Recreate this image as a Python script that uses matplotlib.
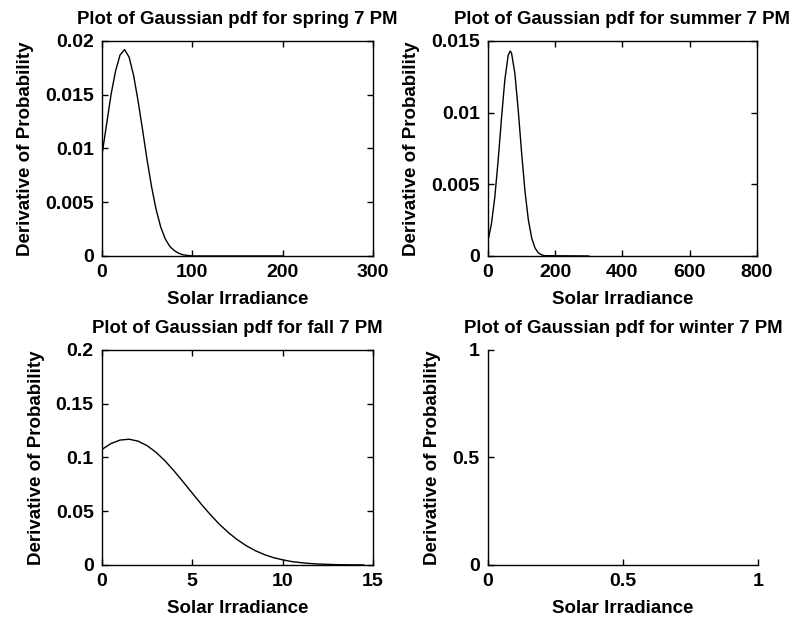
import matplotlib
matplotlib.use("Agg")
import matplotlib.pyplot as plt

plt.rcParams['font.family'] = ['Liberation Sans', 'DejaVu Sans']
plt.rcParams['font.weight'] = 'bold'

# values
spring_x = [0, 5, 10, 15, 20, 25, 30, 35, 40, 45, 50, 55, 60, 65, 70, 75, 80,
            85, 90, 95, 100, 200]
spring_y = [0.0094, 0.0122, 0.0150, 0.0172, 0.0187, 0.0192, 0.0185, 0.0168,
            0.0144, 0.0117, 0.0089, 0.0064, 0.0043, 0.0027, 0.0016, 0.0009,
            0.0005, 0.00025, 0.0001, 0.00005, 0.0, 0.0]

summer_x = [0, 10, 20, 30, 40, 50, 60, 66, 70, 80, 90, 100, 110, 120, 130,
            140, 150, 160, 170, 300]
summer_y = [0.00107, 0.00222, 0.00406, 0.00662, 0.00957, 0.01228, 0.0140,
            0.0143, 0.01416, 0.01273, 0.01015, 0.0072, 0.00452, 0.00253,
            0.00125, 0.00055, 0.00021, 0.00007, 0.00002, 0.0]

fall_x = [0, 0.5, 1.0, 1.5, 2.0, 2.5, 3.0, 3.5, 4.0, 4.5, 5.0, 5.5, 6.0, 6.5,
          7.0, 7.5, 8.0, 8.5, 9.0, 9.5, 10.0, 10.5, 11.0, 11.5, 12.0, 12.5,
          13.0, 13.5, 14.0, 14.5]
fall_y = [0.1075, 0.1130, 0.1162, 0.1170, 0.1152, 0.1110, 0.1047, 0.0967,
          0.0873, 0.0772, 0.0668, 0.0565, 0.0468, 0.0379, 0.0301, 0.0234,
          0.0178, 0.0132, 0.0096, 0.0068, 0.0048, 0.0032, 0.0022, 0.0014,
          0.0009, 0.0006, 0.0003, 0.0002, 0.0001, 0.0001]

seasons = ['spring', 'summer', 'fall', 'winter']
xticks = [[0, 100, 200, 300], [0, 200, 400, 600, 800], [0, 5, 10, 15], [0, 0.5, 1]]
xticklabels = [['0', '100', '200', '300'], ['0', '200', '400', '600', '800'],
               ['0', '5', '10', '15'], ['0', '0.5', '1']]
yticks = [[0, 0.005, 0.01, 0.015, 0.02], [0, 0.005, 0.01, 0.015],
          [0, 0.05, 0.1, 0.15, 0.2], [0, 0.5, 1]]
yticklabels = [['0', '0.005', '0.01', '0.015', '0.02'], ['0', '0.005', '0.01', '0.015'],
               ['0', '0.05', '0.1', '0.15', '0.2'], ['0', '0.5', '1']]

data = [(spring_x, spring_y), (summer_x, summer_y), (fall_x, fall_y), None]
positions = [[0.1286, 0.5878, 0.3417, 0.3462],
             [0.6154, 0.5878, 0.3390, 0.3462],
             [0.1286, 0.0902, 0.3417, 0.3462],
             [0.6154, 0.0902, 0.3404, 0.3462]]

fig = plt.figure(figsize=(7.93, 6.21), dpi=100)

for i, season in enumerate(seasons):
    ax = fig.add_axes(positions[i])
    if data[i] is not None:
        ax.plot(data[i][0], data[i][1], color='black', linewidth=1.0)
        ax.tick_params(top=True, right=True)
    else:
        # winter has no data, MATLAB drew it without the box
        ax.spines['top'].set_visible(False)
        ax.spines['right'].set_visible(False)
    ax.set_xlim(xticks[i][0], xticks[i][-1])
    ax.set_ylim(yticks[i][0], yticks[i][-1])
    ax.set_xticks(xticks[i])
    ax.set_xticklabels(xticklabels[i])
    ax.set_yticks(yticks[i])
    ax.set_yticklabels(yticklabels[i])
    ax.tick_params(direction='in', length=4, width=1, labelsize=14, pad=6)
    for s in ax.spines.values():
        s.set_linewidth(1.0)
    ax.set_title('Plot of Gaussian pdf for %s 7 PM' % season,
                 fontsize=13.4, fontweight='bold', pad=12)
    ax.set_xlabel('Solar Irradiance', fontsize=13.5, fontweight='bold', labelpad=7)
    ax.set_ylabel('Derivative of Probability', fontsize=13.5, fontweight='bold', labelpad=8)

fig.savefig('out.png', dpi=100)
